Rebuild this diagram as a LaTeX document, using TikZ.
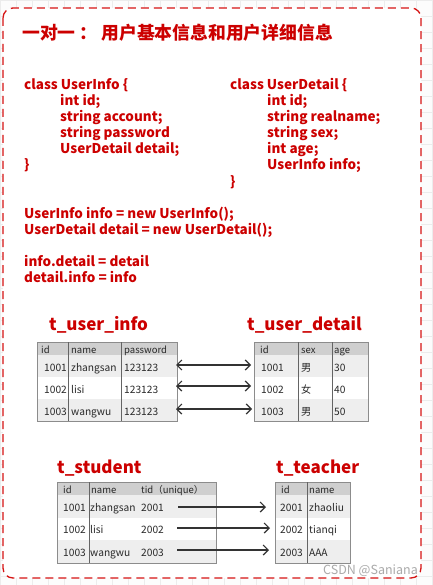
\documentclass[tikz,border=0pt]{standalone}
\usepackage{fontspec}
\setmainfont{Noto Sans CJK SC}
\usetikzlibrary{arrows.meta}
\definecolor{cred}{RGB}{204,0,0}
\definecolor{bred}{RGB}{214,20,20}
\definecolor{hdr}{RGB}{207,207,207}
\definecolor{alt}{RGB}{238,238,238}
\definecolor{tline}{RGB}{140,140,140}
\definecolor{cline}{RGB}{100,100,100}
\definecolor{arr}{RGB}{51,51,51}
\definecolor{gridc}{RGB}{236,236,236}
\definecolor{wm}{RGB}{170,170,170}
\definecolor{celltext}{RGB}{40,40,40}
\tikzset{
 code/.style={anchor=base west, inner sep=0pt, text=cred, font=\fontsize{13.5}{16}\selectfont\bfseries},
 tabtitle/.style={anchor=base west, inner sep=0pt, text=cred, font=\fontsize{17}{20}\selectfont\bfseries},
 hcell/.style={anchor=base west, inner sep=0pt, font=\fontsize{9.5}{11}\selectfont, text=celltext},
 cell/.style={anchor=base west, inner sep=0pt, font=\fontsize{10.2}{12}\selectfont, text=celltext},
 rowbox/.style={draw=none, inner sep=0pt, outer sep=0pt, anchor=north west},
 outline/.style={draw=tline, line width=0.9pt},
 colline/.style={draw=cline, line width=0.9pt},
 link/.style={draw=arr, line width=1.2pt},
 biarrow/.style={link, {Straight Barb[length=5pt,width=10pt]}-{Straight Barb[length=5pt,width=10pt]}},
 onearrow/.style={link, -{Straight Barb[length=5pt,width=10pt]}},
}
\begin{document}
\begin{tikzpicture}[x=1pt,y=-1pt]
\useasboundingbox (0,0) rectangle (432,585);
% background grid
\fill[white!98!gray] (0,0) rectangle (432,585);
\foreach \g in {0,16,...,432} \draw[gridc, line width=0.8pt] (\g,0) -- (\g,585);
\foreach \g in {0,16,...,585} \draw[gridc, line width=0.8pt] (0,\g) -- (432,\g);
% frame
\draw[bred, line width=1.3pt, dash pattern=on 8pt off 5pt, rounded corners=10pt, fill=white] (3,8) rectangle (421,578);

% title
\node[anchor=west, inner sep=0pt, text=cred, font=\fontsize{17.8}{20}\selectfont\bfseries] (title) at (22,33) {一对一 ： 用户基本信息和用户详细信息};

% code left
\node[code] (a1) at (24,90) {class UserInfo \{};
\node[code] (a2) at (60,106) {int id;};
\node[code] (a3) at (60,122) {string account;};
\node[code] (a4) at (60,138) {string password};
\node[code] (a5) at (60,154) {UserDetail detail;};
\node[code] (a6) at (24,170) {\}};
% code right
\node[code] (b1) at (230,90) {class UserDetail \{};
\node[code] (b2) at (267,106) {int id;};
\node[code] (b3) at (267,122) {string realname;};
\node[code] (b4) at (267,138) {string sex;};
\node[code] (b5) at (267,154) {int age;};
\node[code] (b6) at (267,170) {UserInfo info;};
\node[code] (b7) at (230,186) {\}};
% statements
\node[code] (c1) at (24,218) {UserInfo info = new UserInfo();};
\node[code] (c2) at (24,234) {UserDetail detail = new UserDetail();};
\node[code] (c3) at (24,266) {info.detail = detail};
\node[code] (c4) at (24,282) {detail.info = info};

% ---------- t_user_info ----------
\node[tabtitle] (t1title) at (49,330) {t\_user\_info};
\node[rowbox, fill=hdr, minimum width=140pt, minimum height=13pt] (t1h) at (37,342) {};
\node[rowbox, fill=alt, minimum width=140pt, minimum height=22pt] (t1r1) at (37,355) {};
\node[rowbox, fill=white, minimum width=140pt, minimum height=22pt] (t1r2) at (37,377) {};
\node[rowbox, fill=alt, minimum width=140pt, minimum height=22pt] (t1r3) at (37,399) {};
\draw[outline] (t1h.north west) rectangle (t1r3.south east);
\draw[colline] (68,342) -- (68,421);
\draw[colline] (121,342) -- (121,421);
\node[hcell] (t1c1) at (41,353.5) {id};
\node[hcell] (t1c2) at (71,353.5) {name};
\node[hcell] (t1c3) at (124,353.5) {password};
\node[cell] (t1a1) at (44,371) {1001};
\node[cell] (t1a2) at (71,371) {zhangsan};
\node[cell] (t1a3) at (124,371) {123123};
\node[cell] (t1b1) at (44,393) {1002};
\node[cell] (t1b2) at (71,393) {lisi};
\node[cell] (t1b3) at (124,393) {123123};
\node[cell] (t1d1) at (44,415) {1003};
\node[cell] (t1d2) at (71,415) {wangwu};
\node[cell] (t1d3) at (124,415) {123123};

% ---------- t_user_detail ----------
\node[tabtitle] (t2title) at (247,330) {t\_user\_detail};
\node[rowbox, fill=hdr, minimum width=114pt, minimum height=13pt] (t2h) at (254,342) {};
\node[rowbox, fill=alt, minimum width=114pt, minimum height=22pt] (t2r1) at (254,355) {};
\node[rowbox, fill=white, minimum width=114pt, minimum height=22pt] (t2r2) at (254,377) {};
\node[rowbox, fill=alt, minimum width=114pt, minimum height=22pt] (t2r3) at (254,399) {};
\draw[outline] (t2h.north west) rectangle (t2r3.south east);
\draw[colline] (298,342) -- (298,421);
\draw[colline] (332,342) -- (332,421);
\node[hcell] (t2c1) at (260,353.5) {id};
\node[hcell] (t2c2) at (301,353.5) {sex};
\node[hcell] (t2c3) at (334,353.5) {age};
\node[cell] (t2a1) at (261,371) {1001};
\node[cell] (t2a2) at (301,371) {男};
\node[cell] (t2a3) at (334,371) {30};
\node[cell] (t2b1) at (261,393) {1002};
\node[cell] (t2b2) at (301,393) {女};
\node[cell] (t2b3) at (334,393) {40};
\node[cell] (t2d1) at (261,415) {1003};
\node[cell] (t2d2) at (301,415) {男};
\node[cell] (t2d3) at (334,415) {50};

% arrows between t_user_info and t_user_detail
\coordinate (p1l) at (176,365);
\coordinate (p1r) at (251,365);
\coordinate (p2l) at (176,386);
\coordinate (p2r) at (251,386);
\coordinate (p3l) at (176,409);
\coordinate (p3r) at (252,409);
\draw[biarrow] (p1l) -- (p1r);
\draw[biarrow] (p2l) -- (p2r);
\draw[biarrow] (p3l) -- (p3r);

% ---------- t_student ----------
\node[tabtitle] (t3title) at (57,473) {t\_student};
\node[rowbox, fill=hdr, minimum width=159pt, minimum height=13pt] (t3h) at (57,482) {};
\node[rowbox, fill=alt, minimum width=159pt, minimum height=23pt] (t3r1) at (57,495) {};
\node[rowbox, fill=white, minimum width=159pt, minimum height=22pt] (t3r2) at (57,518) {};
\node[rowbox, fill=alt, minimum width=159pt, minimum height=23pt] (t3r3) at (57,540) {};
\draw[outline] (t3h.north west) rectangle (t3r3.south east);
\draw[colline] (89,482) -- (89,563);
\node[hcell] (t3c1) at (63,493.5) {id};
\node[hcell] (t3c2) at (91,493.5) {name};
\node[hcell] (t3c3) at (141,493.5) {tid（unique）};
\node[cell] (t3a1) at (63,511) {1001};
\node[cell] (t3a2) at (90,511) {zhangsan};
\node[cell] (t3a3) at (141,511) {2001};
\node[cell] (t3b1) at (63,533) {1002};
\node[cell] (t3b2) at (90,533) {lisi};
\node[cell] (t3b3) at (141,533) {2002};
\node[cell] (t3d1) at (63,556) {1003};
\node[cell] (t3d2) at (90,556) {wangwu};
\node[cell] (t3d3) at (141,556) {2003};

% ---------- t_teacher ----------
\node[tabtitle] (t4title) at (276,473) {t\_teacher};
\node[rowbox, fill=hdr, minimum width=75pt, minimum height=13pt] (t4h) at (275,482) {};
\node[rowbox, fill=alt, minimum width=75pt, minimum height=23pt] (t4r1) at (275,495) {};
\node[rowbox, fill=white, minimum width=75pt, minimum height=22pt] (t4r2) at (275,518) {};
\node[rowbox, fill=alt, minimum width=75pt, minimum height=23pt] (t4r3) at (275,540) {};
\draw[outline] (t4h.north west) rectangle (t4r3.south east);
\draw[colline] (307,482) -- (307,563);
\node[hcell] (t4c1) at (281,493.5) {id};
\node[hcell] (t4c2) at (309,493.5) {name};
\node[cell] (t4a1) at (280,511) {2001};
\node[cell] (t4a2) at (309,511) {zhaoliu};
\node[cell] (t4b1) at (280,533) {2002};
\node[cell] (t4b2) at (309,533) {tianqi};
\node[cell] (t4d1) at (280,556) {2003};
\node[cell] (t4d2) at (309,556) {AAA};

% arrows t_student -> t_teacher
\coordinate (q1l) at (178,507);
\coordinate (q1r) at (266,507);
\coordinate (q2l) at (177,528);
\coordinate (q2r) at (270,528);
\coordinate (q3l) at (177,550);
\coordinate (q3r) at (269,550);
\draw[onearrow] (q1l) -- (q1r);
\draw[onearrow] (q2l) -- (q2r);
\draw[onearrow] (q3l) -- (q3r);

% watermark
\node[anchor=base west, inner sep=0pt, text=wm, font=\fontsize{12.5}{14}\selectfont] (wmark) at (323,574) {CSDN @Saniana};
\end{tikzpicture}
\end{document}
